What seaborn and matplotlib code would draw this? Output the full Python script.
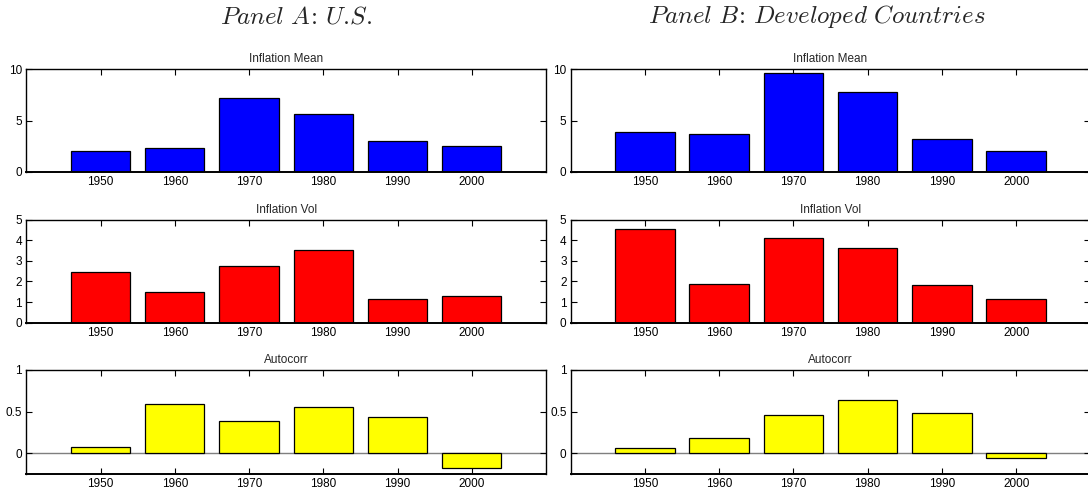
"""
Inflation by decade: U.S. vs developed countries (mean, vol, autocorr).
"""

import numpy as np
import matplotlib
matplotlib.use("Agg")
import matplotlib.pyplot as plt
import seaborn as sns

# decades on the x axis
decades = [1950, 1960, 1970, 1980, 1990, 2000]

# Panel A: U.S.
us_mean = [2.08, 2.34, 7.14, 5.62, 3.05, 2.50]
us_vol = [2.44, 1.48, 2.73, 3.55, 1.13, 1.32]
us_autocorr = [0.072, 0.59, 0.39, 0.556, 0.436, -0.172]

# Panel B: developed countries
dev_mean = [3.86, 3.73, 9.61, 7.73, 3.25, 2.08]
dev_vol = [4.55, 1.90, 4.11, 3.65, 1.82, 1.15]
dev_autocorr = [0.065, 0.18, 0.456, 0.645, 0.488, -0.06]

row_titles = ["Inflation Mean", "Inflation Vol", "Autocorr"]
row_colors = ["#0000ff", "#ff0000", "#ffff00"]
row_ylims = [(0, 10), (0, 5), (-0.25, 1)]
row_yticks = [[0, 5, 10], [0, 1, 2, 3, 4, 5], [0, 0.5, 1]]
row_yticklabels = [["0", "5", "10"], ["0", "1", "2", "3", "4", "5"], ["0", "0.5", "1"]]

# \! cancels the extra spacing mathtext puts around ':' and after '.'
panel_titles = [r"$\mathit{Panel\ A\!:\!\ U.\!S.}$",
                r"$\mathit{Panel\ B\!:\!\ Developed\ Countries}$"]

sns.set_style("ticks")
plt.rcParams["font.family"] = ["Liberation Sans", "DejaVu Sans"]
plt.rcParams["mathtext.fontset"] = "cm"

W, H = 1088, 491
fig = plt.figure(figsize=(W / 100, H / 100), dpi=100)

# axes boxes in pixels: (left, right) and (top, bottom)
col_x = [(26.3, 546.0), (570.7, 1090.4)]
row_y = [(69.0, 172.0), (219.7, 322.7), (370.0, 474.0)]

panels = [[us_mean, us_vol, us_autocorr], [dev_mean, dev_vol, dev_autocorr]]

for c, (x0, x1) in enumerate(col_x):
    for r, (y0, y1) in enumerate(row_y):
        ax = fig.add_axes([x0 / W, 1 - y1 / H, (x1 - x0) / W, (y1 - y0) / H])
        vals = panels[c][r]
        sns.barplot(x=decades, y=vals, native_scale=True, color=row_colors[r],
                    saturation=1, edgecolor="black", linewidth=0.9, ax=ax)
        if r == 2:
            ax.axhline(0, color="#7f7f7f", linewidth=1.0, zorder=0.5)
        ax.set_xlim(1940, 2010)
        ax.set_ylim(*row_ylims[r])
        ax.set_xticks(decades)
        ax.set_xticklabels([str(d) for d in decades])
        ax.set_yticks(row_yticks[r])
        ax.set_yticklabels(row_yticklabels[r])
        ax.set_xlabel("")
        ax.set_ylabel("")
        ax.set_title(row_titles[r], fontsize=8.5, pad=5)
        ax.tick_params(direction="in", top=True, right=True, length=4,
                       width=0.8, labelsize=8.5, colors="black", pad=3)
        for sp in ax.spines.values():
            sp.set_visible(True)
            sp.set_color("black")
            sp.set_linewidth(1.0)
        ax.spines["bottom"].set_linewidth(1.4)

fig.text(296 / W, 1 - 16 / H, panel_titles[0], ha="center", va="center", fontsize=18)
fig.text(817 / W, 1 - 16 / H, panel_titles[1], ha="center", va="center", fontsize=18)

plt.savefig("out.png", dpi=100)
plt.close()
